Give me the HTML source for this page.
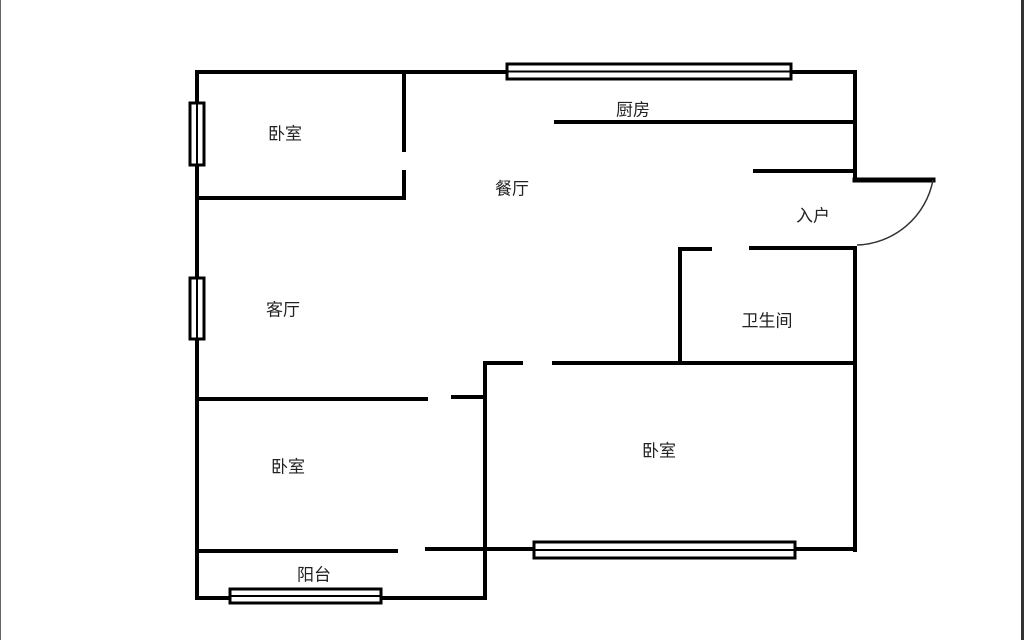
<!DOCTYPE html>
<html><head><meta charset="utf-8"><style>
html,body{margin:0;padding:0;background:#fff;}
svg{display:block;}
text{font-family:"Liberation Sans","Noto Sans CJK SC",sans-serif;font-size:17px;fill:#222;text-anchor:middle;dominant-baseline:middle;}
</style></head><body>
<svg width="1024" height="640" viewBox="0 0 1024 640">
<rect x="1021" y="0" width="3" height="640" fill="#333"/>
<rect x="0" y="0" width="1" height="640" fill="#666"/>
<g stroke="#000" stroke-width="4" fill="none" stroke-linecap="square">
<path d="M197 72 H855 V180"/>
<path d="M197 72 V598 H485 V363"/>
<path d="M197 198 H404 V172"/>
<path d="M404 72 V150"/>
<path d="M556 122 H851"/>
<path d="M755 171 H855"/>
<path d="M855 180 H933" stroke-width="5"/>
<path d="M751 248 H855 V550"/>
<path d="M680 362 V249 H710"/>
<path d="M485 363 H521"/>
<path d="M554 363 H855"/>
<path d="M197 399 H426"/>
<path d="M453 397 H485"/>
<path d="M197 551 H396"/>
<path d="M427 549 H855"/>
</g>
<path d="M933 180 A80 80 0 0 1 857 245" stroke="#333" stroke-width="1.5" fill="none"/>
<g fill="#fff" stroke="#000" stroke-width="3">
<rect x="507" y="64" width="284" height="15"/>
<rect x="190" y="103" width="14" height="62"/>
<rect x="190" y="278" width="14" height="61"/>
<rect x="534" y="542" width="261" height="16"/>
<rect x="230" y="589" width="151" height="14"/>
</g>
<g stroke="#000" stroke-width="2">
<line x1="507" y1="71.5" x2="791" y2="71.5"/>
<line x1="197" y1="103" x2="197" y2="165"/>
<line x1="197" y1="278" x2="197" y2="339"/>
<line x1="534" y1="550" x2="795" y2="550"/>
<line x1="230" y1="596" x2="381" y2="596"/>
</g>
<text x="285" y="135">卧室</text>
<text x="512" y="190">餐厅</text>
<text x="633" y="111">厨房</text>
<text x="813" y="217">入户</text>
<text x="283" y="311">客厅</text>
<text x="767" y="322">卫生间</text>
<text x="288" y="468">卧室</text>
<text x="659" y="452">卧室</text>
<text x="314" y="576">阳台</text>
</svg>
</body></html>
